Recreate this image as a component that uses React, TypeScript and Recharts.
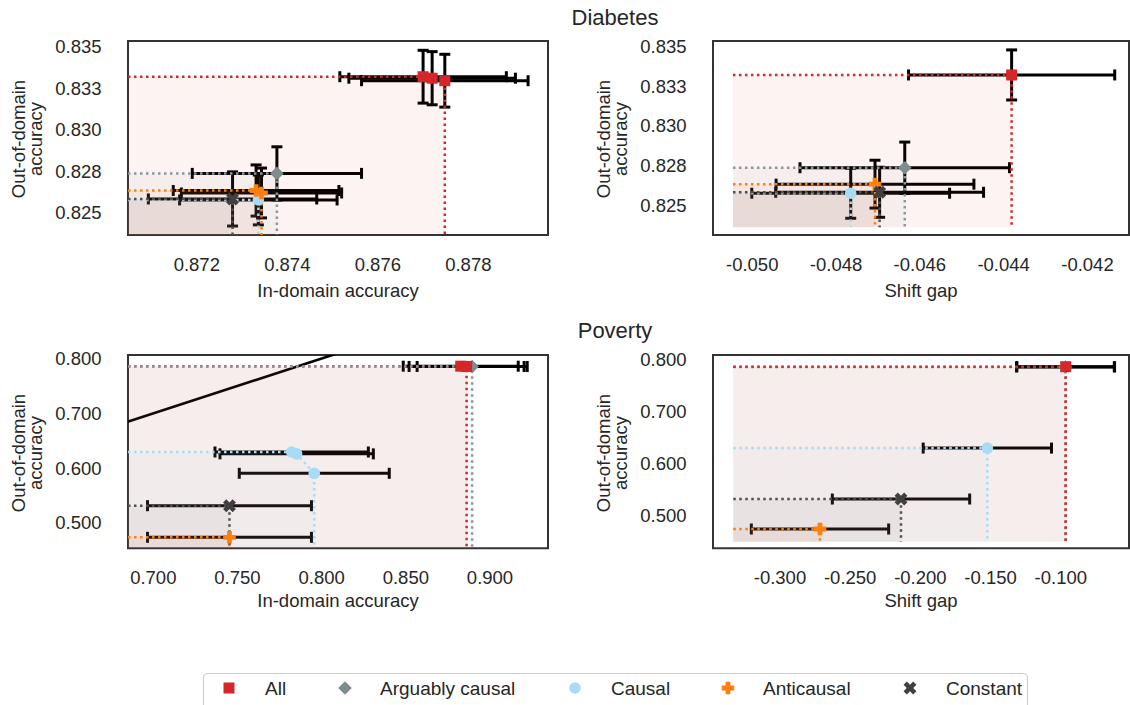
import React from 'react';
import { ScatterChart, Scatter, XAxis, YAxis, ErrorBar, ReferenceArea, ReferenceLine } from 'recharts';

const FONT = '"Liberation Sans", Arial, Helvetica, sans-serif';
const TEXT = '#262626';

// ---- series meta ----
const seriesNames = ['All', 'Arguably causal', 'Causal', 'Anticausal', 'Constant'];
const markerColors = ['#d62728', '#7f8c8d', '#a8dcf5', '#ff7f0e', '#404040'];
const frontierColors = ['#d62728', '#8c979c', '#a8dcf5', '#ff7f0e', '#505050'];
const markerKinds = ['square', 'diamond', 'circle', 'plus', 'cross'];
const drawOrder = [1, 2, 3, 4, 0];
const legendOrder = [0, 1, 2, 3, 4];

// ---- data: [x, y, xErr, yErr] ----
// Diabetes: in-domain accuracy vs out-of-domain accuracy
const diabetesIdAll = [[0.877, 0.83319, 0.00184, 0.00159], [0.8772, 0.8331, 0.00184, 0.0016], [0.87748, 0.83295, 0.00184, 0.00159]];
const diabetesIdArguably = [[0.87377, 0.82737, 0.00187, 0.0016]];
const diabetesIdCausal = [[0.87336, 0.82577, 0.00174, 0.0015]];
const diabetesIdAnticausal = [[0.87331, 0.82634, 0.00183, 0.00154], [0.87343, 0.82619, 0.00177, 0.0015]];
const diabetesIdConstant = [[0.87279, 0.82583, 0.00186, 0.00163]];
// Diabetes: shift gap vs out-of-domain accuracy
const diabetesGapAll = [[-0.04381, 0.83319, 0.00246, 0.00157]];
const diabetesGapArguably = [[-0.04636, 0.82737, 0.0025, 0.00161]];
const diabetesGapCausal = [[-0.04765, 0.82577, 0.00236, 0.00157]];
const diabetesGapAnticausal = [[-0.04707, 0.82634, 0.00236, 0.0015]];
const diabetesGapConstant = [[-0.04696, 0.82583, 0.00248, 0.00157]];
// Poverty: in-domain accuracy vs out-of-domain accuracy
const povertyIdAll = [[0.8826, 0.786, 0.03415, 0], [0.88609, 0.7855, 0.03415, 0]];
const povertyIdArguably = [[0.8894, 0.7855, 0.0327, 0]];
const povertyIdCausal = [[0.78219, 0.6294, 0.04555, 0], [0.78515, 0.626, 0.04555, 0], [0.79561, 0.5905, 0.04454, 0]];
const povertyIdAnticausal = [[0.74525, 0.4737, 0.04869, 0]];
const povertyIdConstant = [[0.74525, 0.5314, 0.04869, 0]];
// Poverty: shift gap vs out-of-domain accuracy
const povertyGapAll = [[-0.0965, 0.786, 0.0348, 0]];
const povertyGapArguably = [[-0.0967, 0.7855, 0.0348, 0]];
const povertyGapCausal = [[-0.1523, 0.6294, 0.0457, 0]];
const povertyGapAnticausal = [[-0.2715, 0.4737, 0.0489, 0]];
const povertyGapConstant = [[-0.2138, 0.5314, 0.0489, 0]];
const povertyDiagonal = [0.6, 1.0];

// ---- ticks ----
const diabetesIdTicks = [0.872, 0.874, 0.876, 0.878];
const diabetesIdTickLabels = ['0.872', '0.874', '0.876', '0.878'];
const diabetesGapTicks = [-0.05, -0.048, -0.046, -0.044, -0.042];
const diabetesGapTickLabels = ['-0.050', '-0.048', '-0.046', '-0.044', '-0.042'];
const diabetesOodTicks = [0.825, 0.8275, 0.83, 0.8325, 0.835];
const diabetesOodTickLabels = ['0.825', '0.828', '0.830', '0.833', '0.835'];
const povertyIdTicks = [0.7, 0.75, 0.8, 0.85, 0.9];
const povertyIdTickLabels = ['0.700', '0.750', '0.800', '0.850', '0.900'];
const povertyGapTicks = [-0.3, -0.25, -0.2, -0.15, -0.1];
const povertyGapTickLabels = ['-0.300', '-0.250', '-0.200', '-0.150', '-0.100'];
const povertyOodTicks = [0.5, 0.6, 0.7, 0.8];
const povertyOodTickLabels = ['0.500', '0.600', '0.700', '0.800'];

type P = { x: number; y: number; ex: number; ey: number };
const toPoints = (arr: number[][]): P[] => arr.map(([x, y, ex, ey]) => ({ x, y, ex, ey }));

function paretoFront(pts: P[]): P[] {
  return pts
    .filter((p) => !pts.some((q) => q !== p && q.x >= p.x && q.y >= p.y && (q.x > p.x || q.y > p.y)))
    .sort((a, b) => a.x - b.x);
}
function frontierLine(pts: P[], fx: number, fy: number) {
  const f = paretoFront(pts);
  return [{ x: fx, y: f[0].y }, ...f.map((p) => ({ x: p.x, y: p.y })), { x: f[f.length - 1].x, y: fy }];
}
function frontierPolygon(pts: P[], fx: number, fy: number) {
  return [...frontierLine(pts, fx, fy), { x: fx, y: fy }];
}

function plusPath(cx: number, cy: number, s: number, a: number) {
  return `M${cx - a},${cy - s}H${cx + a}V${cy - a}H${cx + s}V${cy + a}H${cx + a}V${cy + s}H${cx - a}V${cy + a}H${cx - s}V${cy - a}H${cx - a}Z`;
}

function MarkerGlyph({ kind, cx, cy, color }: { kind: string; cx: number; cy: number; color: string }) {
  if (cx == null || cy == null || isNaN(cx) || isNaN(cy)) return <g />;
  switch (kind) {
    case 'square':
      return <rect x={cx - 5.5} y={cy - 5.5} width={11} height={11} fill={color} />;
    case 'diamond':
      return <polygon points={`${cx},${cy - 6.8} ${cx + 6.8},${cy} ${cx},${cy + 6.8} ${cx - 6.8},${cy}`} fill={color} />;
    case 'circle':
      return <circle cx={cx} cy={cy} r={5.8} fill={color} />;
    case 'plus':
      return <path d={plusPath(cx, cy, 6.3, 2.4)} fill={color} />;
    default:
      return <path d={plusPath(cx, cy, 6.8, 2.3)} fill={color} transform={`rotate(45 ${cx} ${cy})`} />;
  }
}

const Empty = () => <g />;

type PanelCfg = {
  left: number; top: number; width: number; height: number;
  box: { l: number; t: number; r: number; b: number };
  xDomain: [number, number]; yDomain: [number, number];
  xTicks: number[]; xTickLabels: string[]; yTicks: number[]; yTickLabels: string[];
  floor: [number, number];
  series: number[][][];
  showYErr: boolean;
  lineOrder: number[];
  diagonal?: number[];
};

const labelFor = (ticks: number[], labels: string[], v: number) => {
  const i = ticks.findIndex((t) => Math.abs(t - v) < 1e-9);
  return i >= 0 ? labels[i] : '';
};

function Panel(cfg: PanelCfg) {
  const { left, top, width, height, box, xDomain, yDomain, xTicks, xTickLabels, yTicks, yTickLabels, floor, series, showYErr, diagonal, lineOrder } = cfg;
  const pts = series.map(toPoints);
  const YW = 60;
  const XH = 40;
  const margin = { top: box.t, left: box.l - YW, right: width - box.r, bottom: height - box.b - XH };
  return (
    <div style={{ position: 'absolute', left, top, width, height }}>
      <ScatterChart width={width} height={height} margin={margin}>
        <XAxis
          type="number" dataKey="x" domain={xDomain} allowDataOverflow ticks={xTicks} interval={0}
          axisLine={false} tickLine={false} tickSize={0} tickMargin={0} height={XH}
          tick={(p: any) => (
            <text x={p.x} y={p.y + 36} textAnchor="middle" fontSize={18.5} fontFamily={FONT} fill={TEXT}>
              {labelFor(xTicks, xTickLabels, p.payload.value)}
            </text>
          )}
        />
        <YAxis
          type="number" dataKey="y" domain={yDomain} allowDataOverflow ticks={yTicks} interval={0}
          axisLine={false} tickLine={false} tickSize={0} tickMargin={0} width={YW}
          tick={(p: any) => (
            <text x={p.x - 26.5} y={p.y} dy="0.355em" textAnchor="end" fontSize={18.5} fontFamily={FONT} fill={TEXT}>
              {labelFor(yTicks, yTickLabels, p.payload.value)}
            </text>
          )}
        />
        {drawOrder.map((i) => (
          <Scatter
            key={'fill' + i}
            data={frontierPolygon(pts[i], floor[0], floor[1])}
            shape={Empty}
            line={{ stroke: 'none', fill: markerColors[i], fillOpacity: 0.055 }}
            lineType="joint"
            isAnimationActive={false}
          />
        ))}
        {diagonal && (
          <ReferenceLine
            segment={[{ x: diagonal[0], y: diagonal[0] }, { x: diagonal[1], y: diagonal[1] }]}
            stroke="#000" strokeWidth={2.6} ifOverflow="hidden"
          />
        )}
        {drawOrder.map((i) => (
          <Scatter key={'err' + i} data={pts[i]} shape={Empty} isAnimationActive={false}>
            <ErrorBar dataKey="ex" direction="x" width={5.5} stroke="#000" strokeWidth={3} />
            {showYErr && <ErrorBar dataKey="ey" direction="y" width={5.5} stroke="#000" strokeWidth={3} />}
          </Scatter>
        ))}
        {lineOrder.map((i) => (
          <Scatter
            key={'front' + i}
            data={frontierLine(pts[i], floor[0], floor[1])}
            shape={Empty}
            line={{ stroke: frontierColors[i], strokeWidth: 2.5, strokeDasharray: '2.5 3.5', fill: 'none' }}
            lineType="joint"
            isAnimationActive={false}
          />
        ))}
        {drawOrder.map((i) => (
          <Scatter
            key={'mk' + i}
            data={pts[i]}
            shape={(p: any) => <MarkerGlyph kind={markerKinds[i]} cx={p.cx} cy={p.cy} color={markerColors[i]} />}
            isAnimationActive={false}
          />
        ))}
        <ReferenceArea
          x1={xDomain[0]} x2={xDomain[1]} y1={yDomain[0]} y2={yDomain[1]}
          fill="none" stroke="#333" strokeWidth={2} ifOverflow="visible"
        />
      </ScatterChart>
    </div>
  );
}

function YLabel({ x, cy }: { x: number; cy: number }) {
  return (
    <g>
      <text x={x} y={cy} transform={`rotate(-90 ${x} ${cy})`} textAnchor="middle" fontSize={18.5} fill={TEXT}>Out-of-domain</text>
      <text x={x + 17} y={cy} transform={`rotate(-90 ${x + 17} ${cy})`} textAnchor="middle" fontSize={18.5} fill={TEXT}>accuracy</text>
    </g>
  );
}

const legendMarkerX = [229, 345, 575, 728, 910];
const legendTextX = [265, 380, 611, 763, 946];

export default function App() {
  const panels: PanelCfg[] = [
    {
      left: 0, top: 0, width: 565, height: 315,
      box: { l: 128, t: 41, r: 548, b: 235 },
      xDomain: [0.87048, 0.87976], yDomain: [0.82366, 0.83534],
      xTicks: diabetesIdTicks, xTickLabels: diabetesIdTickLabels,
      yTicks: diabetesOodTicks, yTickLabels: diabetesOodTickLabels,
      floor: [0.87048, 0.82366],
      series: [diabetesIdAll, diabetesIdArguably, diabetesIdCausal, diabetesIdAnticausal, diabetesIdConstant],
      showYErr: true,
      lineOrder: drawOrder,
    },
    {
      left: 565, top: 0, width: 565, height: 315,
      box: { l: 148, t: 41, r: 564, b: 235 },
      xDomain: [-0.050936, -0.041009], yDomain: [0.82315, 0.83532],
      xTicks: diabetesGapTicks, xTickLabels: diabetesGapTickLabels,
      yTicks: diabetesOodTicks, yTickLabels: diabetesOodTickLabels,
      floor: [-0.05046, 0.82363],
      series: [diabetesGapAll, diabetesGapArguably, diabetesGapCausal, diabetesGapAnticausal, diabetesGapConstant],
      showYErr: true,
      lineOrder: drawOrder,
    },
    {
      left: 0, top: 315, width: 565, height: 315,
      box: { l: 128, t: 40, r: 548, b: 233.3 },
      xDomain: [0.68498, 0.93444], yDomain: [0.45367, 0.8064],
      xTicks: povertyIdTicks, xTickLabels: povertyIdTickLabels,
      yTicks: povertyOodTicks, yTickLabels: povertyOodTickLabels,
      floor: [0.68498, 0.45367],
      series: [povertyIdAll, povertyIdArguably, povertyIdCausal, povertyIdAnticausal, povertyIdConstant],
      showYErr: false,
      lineOrder: legendOrder,
      diagonal: povertyDiagonal,
    },
    {
      left: 565, top: 315, width: 565, height: 315,
      box: { l: 148, t: 40, r: 564, b: 233.3 },
      xDomain: [-0.3477, -0.05142], yDomain: [0.4366, 0.8085],
      xTicks: povertyGapTicks, xTickLabels: povertyGapTickLabels,
      yTicks: povertyOodTicks, yTickLabels: povertyOodTickLabels,
      floor: [-0.33326, 0.4493],
      series: [povertyGapAll, povertyGapArguably, povertyGapCausal, povertyGapAnticausal, povertyGapConstant],
      showYErr: false,
      lineOrder: drawOrder,
    },
  ];

  return (
    <div style={{ position: 'absolute', left: 0, top: 0, width: 1130, height: 705, background: '#fff', overflow: 'hidden', fontFamily: FONT }}>
      {panels.map((p, i) => (
        <Panel key={i} {...p} />
      ))}
      <svg width={1130} height={705} style={{ position: 'absolute', left: 0, top: 0, pointerEvents: 'none' }} fontFamily={FONT}>
        <text x={615} y={25} textAnchor="middle" fontSize={22} fill={TEXT}>Diabetes</text>
        <text x={615} y={338} textAnchor="middle" fontSize={22} fill={TEXT}>Poverty</text>
        <YLabel x={25} cy={139} />
        <YLabel x={610} cy={139} />
        <YLabel x={25} cy={453} />
        <YLabel x={610} cy={453} />
        <text x={338} y={296.5} textAnchor="middle" fontSize={18.5} fill={TEXT}>In-domain accuracy</text>
        <text x={921} y={296.5} textAnchor="middle" fontSize={18.5} fill={TEXT}>Shift gap</text>
        <text x={338} y={606.5} textAnchor="middle" fontSize={18.5} fill={TEXT}>In-domain accuracy</text>
        <text x={921} y={606.5} textAnchor="middle" fontSize={18.5} fill={TEXT}>Shift gap</text>
        <rect x={203.5} y={673.5} width={824} height={40} rx={4} fill="#fff" stroke="#cfcfcf" strokeWidth={1.2} />
        {seriesNames.map((name, i) => (
          <g key={name}>
            <MarkerGlyph kind={markerKinds[i]} cx={legendMarkerX[i]} cy={688} color={markerColors[i]} />
            <text x={legendTextX[i]} y={694.8} fontSize={19} fill={TEXT}>{name}</text>
          </g>
        ))}
      </svg>
    </div>
  );
}
